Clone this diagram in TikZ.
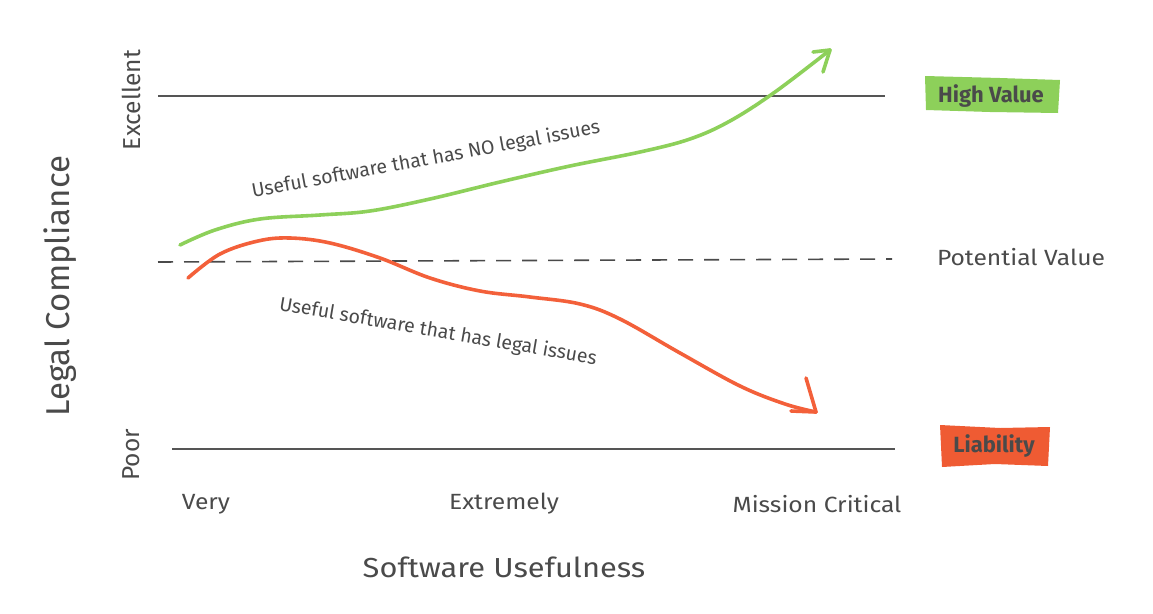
\documentclass[tikz,border=0pt]{standalone}
\usepackage{fontspec}
\setmainfont{Fira Sans}
\definecolor{ink}{HTML}{4A4A4A}
\definecolor{rule}{HTML}{555555}
\definecolor{goodgreen}{HTML}{8DD05A}
\definecolor{badred}{HTML}{F3603A}
\definecolor{tagred}{HTML}{EF5B33}
\begin{document}
\begin{tikzpicture}[x=1pt,y=-1pt,
  lbl/.style={text=ink,inner sep=0pt,font=\fontsize{22}{26}\selectfont},
  ticklbl/.style={text=ink,inner sep=0pt,font=\fontsize{24.5}{29}\selectfont},
  wide/.style={xscale=1.12},
  axislbl/.style={text=ink,inner sep=0pt,font=\fontsize{27.5}{33}\selectfont},
  yaxislbl/.style={text=ink,inner sep=0pt,font=\fontsize{33}{39}\selectfont},
  curvelbl/.style={text=ink,inner sep=0pt,font=\fontsize{19.5}{23}\selectfont},
  tag/.style={text=ink,inner sep=0pt,font=\fontsize{22}{26}\selectfont\bfseries},
  level/.style={draw=rule,line width=1.1pt},
  trend/.style={line width=3.6pt,line cap=round,line join=round}]
\useasboundingbox (0,0) rectangle (1153,613);

% horizontal reference levels
\coordinate (exA) at (158,96);
\coordinate (exB) at (885,96);
\coordinate (poA) at (172,449);
\coordinate (poB) at (895,449);
\coordinate (pvA) at (158,262);
\coordinate (pvB) at (892,259);
\draw[level] (exA) -- (exB);
\draw[level] (poA) -- (poB);
\draw[draw=ink,line width=1.6pt,dash pattern=on 15pt off 11pt] (pvA) -- (pvB);

% axis labels
\node[ticklbl,rotate=90] (excellent) at (131,100) {Excellent};
\node[ticklbl,rotate=90] (poor) at (131,455) {Poor};
\node[yaxislbl,rotate=90] (ylab) at (60,286) {Legal Compliance};
\node[lbl,wide] (very) at (206,504) {Very};
\node[lbl,wide] (extremely) at (504,504) {Extremely};
\node[lbl,wide] (mission) at (817,504) {Mission Critical};
\node[axislbl,wide] (xlab) at (504,567) {Software Usefulness};
\node[lbl,wide] (potential) at (1021,257) {Potential Value};

% value tags
\fill[goodgreen] (925,76) -- (1000,78) -- (1060,80) -- (1058,113) -- (990,112) -- (926,110) -- cycle;
\node[tag] (high) at (991,96) {High Value};
\fill[tagred] (940,425) -- (1000,428) -- (1050,427) -- (1048,466) -- (995,464) -- (942,467) -- cycle;
\node[tag] (liab) at (994,446) {Liability};

% trend curves with hand-drawn open arrow heads
\coordinate (gtip) at (830,50);
\coordinate (rtip) at (816,412);
\draw[trend,goodgreen] plot[smooth,tension=0.6] coordinates {
  (180,245) (215,230) (260,219) (320,215) (370,211) (430,199) (500,182)
  (570,166) (640,152) (690,139) (730,121) (775,92) (830,50)};
\draw[trend,goodgreen] (gtip) -- ++(-17,2);
\draw[trend,goodgreen] (gtip) -- ++(-7,22);
\draw[trend,badred] plot[smooth,tension=0.6] coordinates {
  (188,278) (220,254) (258,241) (290,238) (330,243) (380,258) (430,278)
  (480,291) (530,297) (580,304) (620,319) (680,353) (740,386) (785,404) (816,412)};
\draw[trend,badred] (rtip) -- ++(-10,-34);
\draw[trend,badred] (rtip) -- ++(-25,-1);

% curve captions
\node[curvelbl,rotate=10.5] (good) at (426,160) {Useful software that has NO legal issues};
\node[curvelbl,rotate=-9.8] (bad) at (438,332) {Useful software that has legal issues};
\end{tikzpicture}
\end{document}
